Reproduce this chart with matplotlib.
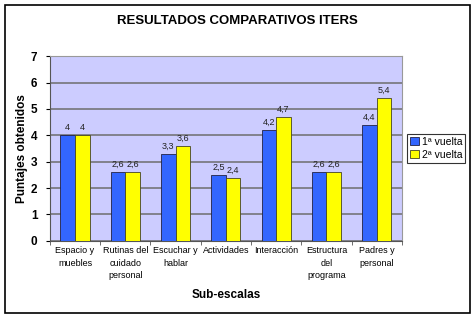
import numpy as np
import matplotlib.pyplot as plt
from matplotlib.patches import Rectangle

# categories and values
categorias = ["Espacio y\nmuebles", "Rutinas del\ncuidado\npersonal", "Escuchar y\nhablar",
              "Actividades", "Interacción", "Estructura\ndel\nprograma", "Padres y\npersonal"]
vuelta1 = [4, 2.6, 3.3, 2.5, 4.2, 2.6, 4.4]
vuelta2 = [4, 2.6, 3.6, 2.4, 4.7, 2.6, 5.4]
series = ["1ª vuelta", "2ª vuelta"]

plt.rcParams['font.family'] = ['Liberation Sans', 'DejaVu Sans']

fig = plt.figure(figsize=(4.75, 3.19), dpi=100)
ax = fig.add_axes([0.105, 0.245, 0.741, 0.579])

#outer border of the chart
fig.patches.append(Rectangle((5/475, 6/319), 465/475, 308/319, transform=fig.transFigure,
                             fill=False, edgecolor='black', linewidth=1.2))

x = np.arange(len(categorias))
w = 0.29
b1 = ax.bar(x - w/2, vuelta1, w, color='#3366ff', edgecolor='#222244', linewidth=0.6, label=series[0], zorder=3)
b2 = ax.bar(x + w/2, vuelta2, w, color='#ffff00', edgecolor='#444422', linewidth=0.6, label=series[1], zorder=3)

def etiqueta(v):
    return ("%g" % v).replace(".", ",")

for bars, vals in ((b1, vuelta1), (b2, vuelta2)):
    for r, v in zip(bars, vals):
        ax.text(r.get_x() + r.get_width()/2, v + 0.12, etiqueta(v), ha='center', va='bottom',
                fontsize=6.5, color='#222222')

ax.set_facecolor('#ccccff')
ax.set_xlim(-0.5, len(categorias) - 0.5)
ax.set_ylim(0, 7)
ax.set_yticks(range(0, 8))
ax.yaxis.grid(True, color='#6e6e6e', linewidth=1.1, zorder=0)
ax.set_axisbelow(True)
ax.tick_params(axis='y', labelsize=8.5, length=3, pad=6)
for t in ax.get_yticklabels():
    t.set_fontweight('bold')

ax.set_xticks(x)
ax.set_xticklabels(categorias, fontsize=6.5, va='top', linespacing=1.5)
ax.set_xticks(np.arange(-0.5, len(categorias)), minor=True)
ax.tick_params(axis='x', which='major', length=0, pad=4)
ax.tick_params(axis='x', which='minor', length=3, color='#555555')

for s in ['top', 'right']:
    ax.spines[s].set_color('#999999')
ax.spines['left'].set_color('#555555')
ax.spines['bottom'].set_color('#555555')

ax.set_ylabel("Puntajes obtenidos", fontsize=8.5, fontweight='bold')
ax.yaxis.set_label_coords(-0.063, 0.5)
ax.set_xlabel("Sub-escalas", fontsize=8.5, fontweight='bold', labelpad=6)
fig.text(0.5, 0.935, "RESULTADOS COMPARATIVOS ITERS", ha='center', va='center',
         fontsize=9.5, fontweight='bold')

leg = ax.legend(loc='center left', bbox_to_anchor=(1.015, 0.50), fontsize=7.5, frameon=True,
                fancybox=False, edgecolor='black', handlelength=0.8, handleheight=0.8,
                handletextpad=0.3, borderpad=0.3, labelspacing=0.3, borderaxespad=0)
leg.get_frame().set_linewidth(0.8)

fig.savefig("out.png", dpi=100)
